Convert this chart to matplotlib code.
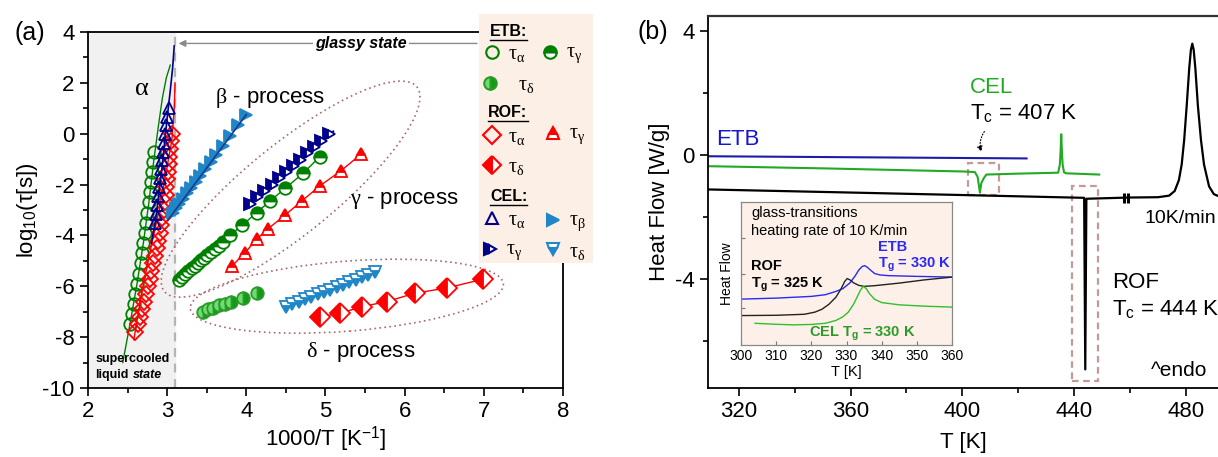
import matplotlib
matplotlib.use("Agg")
import matplotlib.pyplot as plt
from matplotlib.patches import Ellipse, Rectangle
from matplotlib.transforms import ScaledTranslation

plt.rcParams["font.family"] = ["Liberation Sans", "DejaVu Sans"]
plt.rcParams["mathtext.fontset"] = "custom"
plt.rcParams["mathtext.rm"] = "Liberation Serif"
plt.rcParams["mathtext.it"] = "Liberation Serif:italic"
plt.rcParams["mathtext.bf"] = "Liberation Sans:bold"
plt.rcParams["mathtext.sf"] = "Liberation Sans"
plt.rcParams["axes.unicode_minus"] = False

# ---------------- panel (a): relaxation map ----------------
etb_a_x = [2.53, 2.555, 2.58, 2.60, 2.625, 2.645, 2.665, 2.685, 2.70, 2.72, 2.735, 2.75, 2.765, 2.78, 2.795, 2.81, 2.82, 2.83]
etb_a_y = [-7.5, -7.1, -6.7, -6.3, -5.9, -5.5, -5.1, -4.7, -4.3, -3.9, -3.5, -3.1, -2.7, -2.3, -1.9, -1.5, -1.1, -0.7]
etb_a_fit_x = [2.44, 2.53, 2.62, 2.70, 2.77, 2.83, 2.89, 2.94, 2.99, 3.04]
etb_a_fit_y = [-9.0, -7.5, -5.9, -4.3, -2.7, -1.1, 0.3, 1.4, 2.2, 2.7]

rof_a_x = [2.60, 2.63, 2.655, 2.68, 2.705, 2.73, 2.755, 2.78, 2.80, 2.825, 2.85, 2.87, 2.89, 2.91,
           2.925, 2.94, 2.955, 2.97, 2.98, 2.99, 3.0, 3.01, 3.02, 3.03, 3.04, 3.05, 3.06]
rof_a_y = [-7.8, -7.5, -7.2, -6.9, -6.6, -6.3, -6.0, -5.7, -5.4, -5.1, -4.8, -4.5, -4.2, -3.9,
           -3.6, -3.3, -3.0, -2.7, -2.4, -2.1, -1.8, -1.5, -1.2, -0.9, -0.6, -0.3, 0.0]
rof_a_fit_x = [2.58, 2.66, 2.78, 2.90, 3.00, 3.06, 3.09, 3.10]
rof_a_fit_y = [-8.1, -6.6, -4.7, -3.0, -1.3, -0.25, 1.0, 2.0]

cel_a_x = [2.85, 2.862, 2.875, 2.888, 2.90, 2.912, 2.925, 2.937, 2.95, 2.962, 2.975, 2.988, 3.0, 3.02]
cel_a_y = [-3.5, -3.15, -2.8, -2.45, -2.1, -1.75, -1.4, -1.05, -0.7, -0.35, 0.0, 0.35, 0.65, 1.0]
cel_a_fit_x = [2.80, 2.85, 2.93, 3.00, 3.04, 3.07, 3.09]
cel_a_fit_y = [-4.3, -3.5, -1.5, 0.6, 1.7, 2.6, 3.45]

cel_b_x = [3.07, 3.11, 3.15, 3.2, 3.25, 3.3, 3.36, 3.42, 3.48, 3.55, 3.62, 3.7, 3.8, 3.9, 4.0]
cel_b_y = [-3.10, -2.93, -2.77, -2.56, -2.35, -2.15, -1.90, -1.65, -1.40, -1.11, -0.82, -0.49, -0.08, 0.34, 0.75]
cel_b_fit_x = [3.01, 4.0]
cel_b_fit_y = [-3.4, 0.75]

cel_g_x = [4.05, 4.14, 4.23, 4.32, 4.41, 4.5, 4.59, 4.68, 4.77, 4.86, 4.95, 5.05]
cel_g_y = [-2.75, -2.50, -2.26, -2.01, -1.76, -1.51, -1.27, -1.02, -0.77, -0.52, -0.28, 0.0]
cel_g_fit_x = [4.0, 5.1]
cel_g_fit_y = [-2.9, 0.1]

etb_g_x = [3.15, 3.19, 3.23, 3.27, 3.31, 3.35, 3.39, 3.43, 3.47, 3.51, 3.55, 3.6, 3.65, 3.7,
           3.8, 3.95, 4.13, 4.3, 4.49, 4.72, 4.93]
etb_g_y = [-5.75, -5.62, -5.52, -5.40, -5.30, -5.20, -5.08, -4.98, -4.88, -4.76, -4.66, -4.52,
           -4.40, -4.27, -3.98, -3.60, -3.10, -2.65, -2.15, -1.55, -0.90]

rof_g_x = [3.82, 3.98, 4.13, 4.27, 4.49, 4.7, 4.93, 5.2, 5.45]
rof_g_y = [-5.2, -4.7, -4.15, -3.75, -3.2, -2.65, -2.05, -1.45, -0.8]

etb_d_x = [3.45, 3.52, 3.58, 3.66, 3.73, 3.81, 3.96, 4.13]
etb_d_y = [-7.0, -6.9, -6.85, -6.75, -6.7, -6.6, -6.45, -6.25]

cel_d_x = [4.5, 4.58, 4.66, 4.74, 4.82, 4.9, 4.98, 5.06, 5.14, 5.22, 5.3, 5.38, 5.46, 5.54, 5.62]
cel_d_y = [-6.80, -6.70, -6.61, -6.51, -6.42, -6.32, -6.22, -6.13, -6.03, -5.94, -5.84, -5.74,
           -5.64, -5.55, -5.45]

rof_d_x = [4.93, 5.18, 5.46, 5.78, 6.13, 6.53, 6.99]
rof_d_y = [-7.2, -7.07, -6.8, -6.6, -6.27, -6.07, -5.72]

# ---------------- panel (b): DSC traces ----------------
etb_T = [309, 423]
etb_hf = [-0.03, -0.10]
cel_T = [309, 350, 400, 404.5, 405.5, 406.3, 406.8, 407.6, 408.6, 420, 434.3, 434.9, 435.2,
         435.4, 435.6, 435.9, 436.4, 437.2, 449]
cel_hf = [-0.35, -0.42, -0.52, -0.54, -0.70, -1.20, -0.90, -0.75, -0.62, -0.59, -0.56, -0.30,
          0.20, 0.68, 0.20, -0.30, -0.55, -0.58, -0.62]
rof_T = [309, 360, 400, 443.6, 444.0, 444.4, 460, 470, 474, 476, 477.5, 478.5, 479.4, 480.3,
         481.2, 481.8, 482.3, 482.8, 483.4, 484.3, 485.4, 486.5, 488.3, 490, 492]
rof_hf = [-1.10, -1.20, -1.28, -1.37, -6.9, -1.40, -1.36, -1.35, -1.30, -1.15, -0.80, -0.30,
          0.50, 1.60, 2.80, 3.40, 3.60, 3.40, 2.80, 1.60, 0.50, -0.30, -1.00, -1.25, -1.33]
break_T = [457.8, 459.3]
break_hf = [-1.36, -1.36]

# inset: glass transitions
ins_etb_T = [300, 310, 320, 324, 327, 329, 331, 332.5, 333.5, 334.5, 335.2, 336, 337, 338,
             339.5, 342, 350, 360]
ins_etb_hf = [3.21, 3.28, 3.40, 3.52, 3.75, 3.95, 4.35, 4.85, 5.25, 5.50, 5.55, 5.42, 5.20,
              5.00, 4.90, 4.85, 4.80, 4.75]
ins_rof_T = [300, 310, 318, 321, 323, 325, 327, 328.5, 329.5, 330.2, 331, 332, 333.5, 335,
             338, 345, 352, 360]
ins_rof_hf = [2.06, 2.08, 2.15, 2.30, 2.50, 2.85, 3.35, 3.95, 4.45, 4.65, 4.55, 4.35, 4.17,
              4.10, 4.15, 4.33, 4.55, 4.75]
ins_cel_T = [304, 310, 315, 320, 324, 327, 329, 330.5, 332, 333, 334, 334.8, 335.6, 336.5,
             338, 340, 345, 352, 360]
ins_cel_hf = [1.52, 1.45, 1.41, 1.44, 1.52, 1.72, 1.98, 2.30, 2.85, 3.35, 3.85, 4.10, 3.95,
              3.60, 3.20, 2.97, 2.81, 2.72, 2.65]

GREEN = "#008000"
RED = "#ff0000"
NAVY = "#00008b"
SKY = "#1f86c8"
LGREEN = "#22aa22"
BLUE = "#1515d0"

fig = plt.figure(figsize=(12.18, 4.57), dpi=100)
axa = fig.add_axes([0.0722, 0.151, 0.3900, 0.779])
axb = fig.add_axes([0.5813, 0.151, 0.4187, 0.8146])

mk = dict(ms=9, mew=1.3, linestyle="none")

# --- panel (a)
axa.axvspan(2, 3.1, color="#f1f1f1", zorder=0)
axa.axvline(3.1, color="#b4b4b4", ls=(0, (4, 3)), lw=1.6, zorder=1)

axa.plot(etb_a_fit_x, etb_a_fit_y, color=GREEN, lw=1)
axa.plot(etb_a_x, etb_a_y, marker="o", mfc="none", mec=GREEN, **mk)
axa.plot(rof_a_fit_x, rof_a_fit_y, color=RED, lw=1)
axa.plot(rof_a_x, rof_a_y, marker="D", mfc="none", mec=RED, ms=8, mew=1.3, linestyle="none")
axa.plot(cel_a_fit_x, cel_a_fit_y, color=NAVY, lw=1.2)
axa.plot(cel_a_x, cel_a_y, marker="^", mfc="none", mec=NAVY, **mk)

axa.plot(cel_b_x, cel_b_y, marker=">", color=SKY, **mk)
axa.plot(cel_b_fit_x, cel_b_fit_y, color="#1a3c8c", lw=1.2)

axa.plot(cel_g_fit_x, cel_g_fit_y, color=NAVY, lw=1.2)
axa.plot(cel_g_x, cel_g_y, marker=">", fillstyle="left", mfc=NAVY, mfcalt="white", mec=NAVY, **mk)
axa.plot(etb_g_x, etb_g_y, color=GREEN, lw=1)
axa.plot(etb_g_x, etb_g_y, marker="o", fillstyle="top", mfc=GREEN, mfcalt="white", mec=GREEN, **mk)
axa.plot(rof_g_x, rof_g_y, color=RED, lw=1)
axa.plot(rof_g_x, rof_g_y, marker="^", fillstyle="top", mfc=RED, mfcalt="white", mec=RED, **mk)

axa.plot(etb_d_x, etb_d_y, marker="o", fillstyle="right", mfc="#139a13", mfcalt="#6fdc6f", mec="#2a9a2a", **mk)
axa.plot(cel_d_x, cel_d_y, color=NAVY, lw=1.2)
axa.plot(cel_d_x, cel_d_y, marker="v", fillstyle="bottom", mfc=SKY, mfcalt="white", mec=SKY, **mk)
axa.plot(rof_d_x, rof_d_y, color=RED, lw=1)
axa.plot(rof_d_x, rof_d_y, marker="D", fillstyle="left", mfc=RED, mfcalt="white", mec=RED,
         ms=10, mew=1.3, linestyle="none")

# dotted ellipses around gamma and delta processes (size in inches, angle on screen)
for cx, cy, w, h, ang in [(4.56, -2.18, 3.25, 0.90, 39), (5.27, -6.39, 3.14, 0.70, 4.5)]:
    tr = fig.dpi_scale_trans + ScaledTranslation(cx, cy, axa.transData)
    axa.add_patch(Ellipse((0, 0), w, h, angle=ang, transform=tr, fill=False,
                          ec="#a86a6a", lw=1.2, ls=(0, (1, 2))))

axa.annotate("", xy=(3.11, 3.55), xytext=(6.95, 3.55),
             arrowprops=dict(arrowstyle="-|>", color="#8a8a8a", lw=1, mutation_scale=10))
axa.text(5.45, 3.55, "glassy state", fontsize=11.5, fontweight="bold", fontstyle="italic",
         ha="center", va="center", bbox=dict(fc="white", ec="none", pad=1.5))
axa.text(2.09, -8.85, "supercooled", fontsize=9, fontweight="bold", va="center")
axa.text(2.09, -9.5, "liquid", fontsize=9, fontweight="bold", va="center")
axa.text(2.57, -9.5, "state", fontsize=9, fontweight="bold", fontstyle="italic", va="center")

axa.text(2.68, 1.8, r"$\mathrm{\alpha}$", fontsize=19, ha="center", va="center")
axa.text(4.3, 1.4, r"$\mathrm{\beta}$ - process", fontsize=16, ha="center", va="center")
axa.text(6.0, -2.6, r"$\mathrm{\gamma}$ - process", fontsize=16, ha="center", va="center")
axa.text(5.45, -8.6, r"$\mathrm{\delta}$ - process", fontsize=16, ha="center", va="center")

axa.set_xlim(2, 8)
axa.set_ylim(-10, 4)
axa.set_xticks(range(2, 9))
axa.set_xticks([2.5 + i for i in range(6)], minor=True)
axa.set_yticks(range(-10, 5, 2))
axa.set_yticks(range(-9, 4, 2), minor=True)
axa.set_xlabel("1000/T [K$^{\\mathsf{-1}}$]", fontsize=16, labelpad=2)
axa.set_ylabel("log$_{\\mathsf{10}}$(τ[s])", fontsize=16, labelpad=2)

for ax in (axa, axb):
    ax.tick_params(which="both", direction="out", labelsize=16, width=1.2)
    ax.tick_params(which="major", length=6)
    ax.tick_params(which="minor", length=3.5)
    for s in ax.spines.values():
        s.set_linewidth(1.3)

# legend box for panel (a), drawn in its own pixel-like coordinates
lax = fig.add_axes([0.3933, 0.4245, 0.0936, 0.545])
lax.set_facecolor("#fcefe5")
lax.set_xlim(479, 593)
lax.set_ylim(263, 14)
lax.set_xticks([])
lax.set_yticks([])
for s in lax.spines.values():
    s.set_visible(False)

for name, x, y, w in [("ETB:", 490, 32, 37), ("ROF:", 488, 113, 40), ("CEL:", 490, 197, 37)]:
    lax.text(x, y, name, fontsize=11.5, fontweight="bold", va="center")
    lax.plot([x, x + w], [y + 8, y + 8], color="black", lw=1)

leg_items = [
    (492, 52, dict(marker="o", mfc="none", mec=GREEN), r"\alpha"),
    (550, 52, dict(marker="o", fillstyle="top", mfc=GREEN, mfcalt="white", mec=GREEN), r"\gamma"),
    (490, 83, dict(marker="o", fillstyle="right", mfc="#139a13", mfcalt="#6fdc6f", mec="#2a9a2a"), r"\delta"),
    (492, 135, dict(marker="D", mfc="none", mec=RED), r"\alpha"),
    (553, 133, dict(marker="^", fillstyle="top", mfc=RED, mfcalt="white", mec=RED), r"\gamma"),
    (492, 165, dict(marker="D", fillstyle="left", mfc=RED, mfcalt="white", mec=RED), r"\delta"),
    (492, 218, dict(marker="^", mfc="none", mec=NAVY), r"\alpha"),
    (553, 220, dict(marker=">", color=SKY), r"\beta"),
    (490, 249, dict(marker=">", fillstyle="left", mfc=NAVY, mfcalt="white", mec=NAVY), r"\gamma"),
    (553, 249, dict(marker="v", fillstyle="bottom", mfc=SKY, mfcalt="white", mec=SKY), r"\delta"),
]
for x, y, style, sub in leg_items:
    lax.plot([x], [y], ms=9, mew=1.5, linestyle="none", **style)
    tx = x + 28 if sub == r"\delta" and x < 491 else x + 16
    lax.text(tx, y + 3, r"$\mathrm{\tau_{%s}}$" % sub, fontsize=14.5, va="center")

# --- panel (b)
axb.plot(etb_T, etb_hf, color="#1c1ca8", lw=1.5)
axb.plot(cel_T, cel_hf, color=LGREEN, lw=1.5)
axb.plot(rof_T, rof_hf, color="black", lw=1.6)
axb.plot(break_T, break_hf, linestyle="none", marker="|", ms=7, mew=2.2, color="black")

for x0, y0, w, h in [(401.9, -1.29, 11.4, 1.03), (439.4, -7.26, 9.2, 6.26)]:
    axb.add_patch(Rectangle((x0, y0), w, h, fill=False, ec="#c49a96", lw=1.6, ls=(0, (3, 2))))

axb.annotate("", xy=(407.2, 0.03), xytext=(408.5, 0.84),
             arrowprops=dict(arrowstyle="-|>", color="black", lw=0.8, ls=":",
                             connectionstyle="arc3,rad=0.3", mutation_scale=8))

axb.text(312, 0.52, "ETB", color=BLUE, fontsize=16, va="center")
axb.text(402.6, 2.2, "CEL", color=LGREEN, fontsize=16, va="center")
axb.text(402.6, 1.35, "T$_{\\mathsf{c}}$ = 407 K", fontsize=16, va="center")
axb.text(465.2, -2.05, "10K/min", fontsize=14, va="center")
axb.text(453.7, -4.1, "ROF", fontsize=16, va="center")
axb.text(453.7, -4.95, "T$_{\\mathsf{c}}$ = 444 K", fontsize=16, va="center")
axb.text(467.6, -6.95, "^endo", fontsize=15, va="center")

axb.set_xlim(309, 491.5)
axb.set_ylim(-7.5, 4.5)
axb.set_xticks([320, 360, 400, 440, 480])
axb.set_xticks([340, 380, 420, 460], minor=True)
axb.set_yticks([-4, 0, 4])
axb.set_yticks([-6, -2, 2], minor=True)
axb.spines["right"].set_visible(False)
axb.spines["top"].set_color("#333333")
axb.spines["top"].set_linewidth(1.6)
axb.set_xlabel("T [K]", fontsize=16, labelpad=7)
axb.set_ylabel("Heat Flow [W/g]", fontsize=16, labelpad=4)

fig.text(0.0115, 0.928, "(a)", fontsize=18, va="center")
fig.text(0.523, 0.93, "(b)", fontsize=18, va="center")

# inset
axi = fig.add_axes([0.6084, 0.245, 0.1732, 0.313])
axi.set_facecolor("#fdf0e8")
axi.plot(ins_etb_T, ins_etb_hf, color="#2a2af0", lw=1)
axi.plot(ins_rof_T, ins_rof_hf, color="#222222", lw=1)
axi.plot(ins_cel_T, ins_cel_hf, color="#2fbf2f", lw=1)
axi.set_xlim(300, 360)
axi.set_ylim(0, 10)
axi.set_xticks(range(300, 361, 10))
axi.set_yticks([2.6, 5.0, 7.5])
axi.set_yticklabels([])
axi.tick_params(direction="in", length=3, labelsize=10, color="#777777", pad=3)
for s in axi.spines.values():
    s.set_color("#888888")
    s.set_linewidth(0.9)
axi.set_xlabel("T [K]", fontsize=10.5, labelpad=1)
axi.set_ylabel("Heat Flow", fontsize=10, labelpad=2)
axi.text(0.047, 0.92, "glass-transitions", transform=axi.transAxes, fontsize=10.5, va="center")
axi.text(0.047, 0.80, "heating rate of 10 K/min", transform=axi.transAxes, fontsize=10.5, va="center")
axi.text(0.047, 0.55, "ROF", transform=axi.transAxes, fontsize=10.5, fontweight="bold", va="center")
axi.text(0.047, 0.42, "T$_{\\mathbf{g}}$ = 325 K", transform=axi.transAxes, fontsize=10.5,
         fontweight="bold", va="center")
axi.text(0.65, 0.685, "ETB", transform=axi.transAxes, fontsize=10.5, fontweight="bold",
         color="#2a2af0", va="center")
axi.text(0.65, 0.56, "T$_{\\mathbf{g}}$ = 330 K", transform=axi.transAxes, fontsize=10.5,
         fontweight="bold", color="#2a2af0", va="center")
axi.text(0.32, 0.077, "CEL T$_{\\mathbf{g}}$ = 330 K", transform=axi.transAxes, fontsize=10.5,
         fontweight="bold", color="#2a9a2a", va="center")

fig.savefig("out.png", dpi=100)
